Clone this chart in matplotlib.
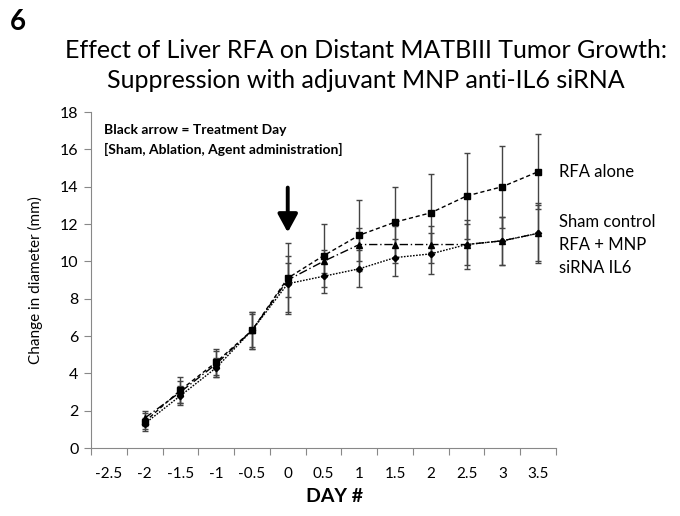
import numpy as np
import matplotlib
matplotlib.use("Agg")
import matplotlib.pyplot as plt

plt.rcParams['font.family'] = ['Lato', 'DejaVu Sans']

# Data
days = [-2, -1.5, -1, -0.5, 0, 0.5, 1, 1.5, 2, 2.5, 3, 3.5]
day_labels = ['-2.5', '-2', '-1.5', '-1', '-0.5', '0', '0.5', '1', '1.5', '2', '2.5', '3', '3.5']

rfa_alone = [1.4, 3.1, 4.6, 6.3, 9.1, 10.3, 11.4, 12.1, 12.6, 13.5, 14.0, 14.8]
rfa_alone_err = [0.5, 0.7, 0.7, 1.0, 1.9, 1.7, 1.9, 1.9, 2.1, 2.3, 2.2, 2.0]

sham = [1.6, 3.0, 4.5, 6.3, 9.0, 10.0, 10.9, 10.9, 10.9, 10.9, 11.1, 11.5]
sham_err = [0.4, 0.6, 0.7, 0.9, 0.9, 0.6, 0.9, 1.0, 1.0, 1.1, 1.3, 1.5]

il6 = [1.3, 2.8, 4.3, 6.3, 8.8, 9.2, 9.6, 10.2, 10.4, 10.9, 11.1, 11.5]
il6_err = [0.3, 0.5, 0.5, 1.0, 1.5, 0.9, 1.0, 1.0, 1.1, 1.3, 1.3, 1.6]

treat_day = 0

fig = plt.figure(figsize=(6.8, 5.16), dpi=100)
ax = fig.add_axes([91/680, 1-448/516, (556-91)/680, (448-112)/516])

eb = dict(ecolor='#444444', elinewidth=1.0, capsize=2.5, capthick=1.0, color='black', lw=1.0)
ax.errorbar(days, rfa_alone, yerr=rfa_alone_err, marker='s', ms=5, ls=(0, (3, 2)), **eb)
ax.errorbar(days, sham, yerr=sham_err, marker='^', ms=4.5, ls=(0, (6, 2, 1, 2)), **eb)
ax.errorbar(days, il6, yerr=il6_err, marker='D', ms=3.2, ls=(0, (1.2, 1.0)), **eb)

# treatment arrow
ax.annotate('', xy=(treat_day, 11.4), xytext=(treat_day, 14.1),
            arrowprops=dict(arrowstyle='-|>,head_width=0.6,head_length=1.1', lw=2.8, color='black'))

# category style x axis: ticks on boundaries, labels in the middle
cats = np.arange(-2.5, 3.51, 0.5)
ax.set_xlim(-2.75, 3.75)
ax.set_xticks(np.append(cats - 0.25, cats[-1] + 0.25))
ax.set_xticklabels([])
ax.set_xticks(cats, minor=True)
ax.set_xticklabels(day_labels, minor=True)
ax.tick_params(axis='x', which='minor', length=0, pad=14, labelsize=11)
ax.tick_params(axis='x', which='major', length=5, color='#888888', direction='out')

ax.set_ylim(0, 18)
ax.set_yticks(range(0, 19, 2))
ax.tick_params(axis='y', length=5, color='#888888', labelsize=11.5, pad=4)

for s in ['top', 'right']:
    ax.spines[s].set_visible(False)
for s in ['left', 'bottom']:
    ax.spines[s].set_color('#888888')

ax.set_ylabel('Change in diameter (mm)', fontsize=11, labelpad=12)
fig.text(335/680, 1-497/516, 'DAY #', fontsize=14, fontweight='bold', ha='center', va='center')

fig.text(366/680, 1-50/516, 'Effect of Liver RFA on Distant MATBIII Tumor Growth:',
         fontsize=18, ha='center', va='center')
fig.text(366/680, 1-80/516, 'Suppression with adjuvant MNP anti-IL6 siRNA',
         fontsize=18, ha='center', va='center')
fig.text(10/680, 1-22/516, '6', fontsize=20, fontweight='bold', ha='left', va='center')

fig.text(104/680, 1-130/516, 'Black arrow = Treatment Day', fontsize=10, fontweight='bold', va='center')
fig.text(104/680, 1-149/516, '[Sham, Ablation, Agent administration]', fontsize=10, fontweight='bold', va='center')

fig.text(559/680, 1-172/516, 'RFA alone', fontsize=12, va='center')
fig.text(559/680, 1-222/516, 'Sham control', fontsize=12, va='center')
fig.text(559/680, 1-245/516, 'RFA + MNP', fontsize=12, va='center')
fig.text(559/680, 1-268/516, 'siRNA IL6', fontsize=12, va='center')

fig.savefig('out.png', dpi=100)
